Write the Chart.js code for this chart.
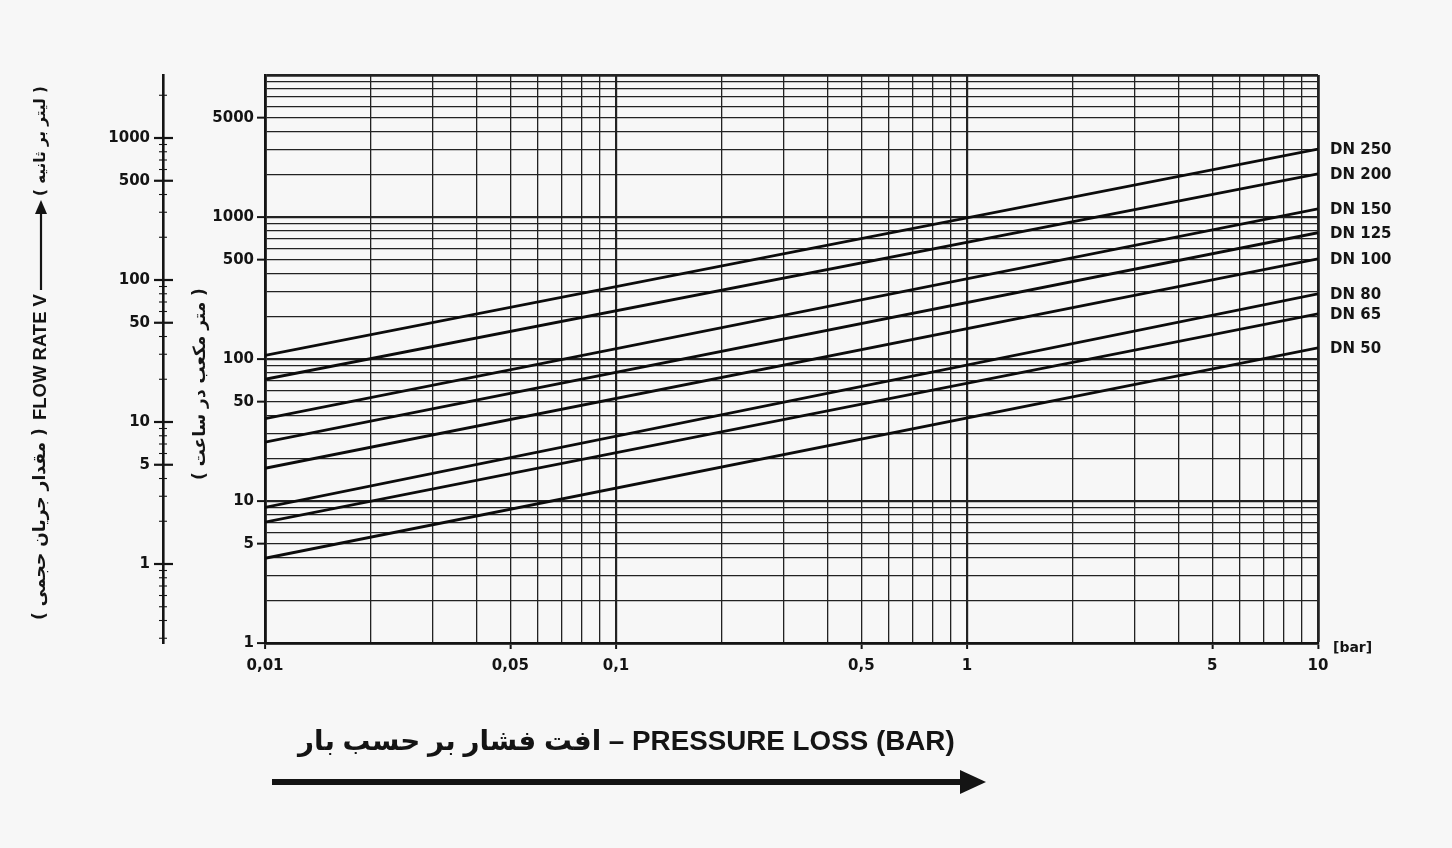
<!DOCTYPE html>
<html>
<head>
<meta charset="utf-8">
<script src="https://cdn.jsdelivr.net/npm/chart.js@4.4.1/dist/chart.umd.min.js"></script>
<style>
  html, body { margin: 0; padding: 0; background: #f7f7f7; }
  #wrap { width: 1452px; height: 848px; position: relative; }
</style>
</head>
<body>
<div id="wrap"><canvas id="c" width="1452" height="848"></canvas></div>
<script>
// ---------- DATA ----------
const pressureBar = [0.01, 10];                 // x values of the two read points (bar)
const seriesNames = ['DN 250', 'DN 200', 'DN 150', 'DN 125', 'DN 100', 'DN 80', 'DN 65', 'DN 50'];
const dn250 = [106, 3010];                       // flow rate m³/h at 0.01 bar and 10 bar
const dn200 = [72, 2010];
const dn150 = [38, 1140];
const dn125 = [26, 775];
const dn100 = [17, 508];
const dn80  = [9.0, 288];
const dn65  = [7.1, 208];
const dn50  = [3.95, 120];
const seriesValues = [dn250, dn200, dn150, dn125, dn100, dn80, dn65, dn50];

const xTickValues = [0.01, 0.05, 0.1, 0.5, 1, 5, 10];
const xTickLabels = ['0,01', '0,05', '0,1', '0,5', '1', '5', '10'];
const yTickValues = [1, 5, 10, 50, 100, 500, 1000, 5000];        // m³/h
const yTickLabels = ['1', '5', '10', '50', '100', '500', '1000', '5000'];
const lsTickValues = [1, 5, 10, 50, 100, 500, 1000];             // l/s
const lsTickLabels = ['1', '5', '10', '50', '100', '500', '1000'];
const M3H_PER_LS = 3.6;

const titleX = 'افت فشار بر حسب بار – PRESSURE LOSS (BAR)';
const titleInner = '( متر مکعب در ساعت )';
const titleOuterA = '( مقدار جریان حجمی )';
const titleOuterB = 'FLOW RATE V';
const titleOuterC = '( لیتر بر ثانیه )';
const unitX = '[bar]';

// ---------- helpers ----------
function logGrid(minExp, maxExp) {
  const out = [];
  for (let e = minExp; e < maxExp; e++) {
    for (let m = 1; m < 10; m++) out.push(Number((m * Math.pow(10, e)).toPrecision(6)));
  }
  out.push(Number(Math.pow(10, maxExp).toPrecision(6)));
  return out;
}
function findIdx(v, arr) {
  for (let i = 0; i < arr.length; i++) if (Math.abs(Math.log10(v) - Math.log10(arr[i])) < 1e-6) return i;
  return -1;
}
function isDecade(v) { return Math.abs(Math.log10(v) - Math.round(Math.log10(v))) < 1e-6; }

const xGrid = logGrid(-2, 1);
const yGrid = logGrid(0, 4);
const lsMin = 1 / M3H_PER_LS, lsMax = 10000 / M3H_PER_LS;
const lsGrid = logGrid(-1, 4).filter(v => v >= lsMin && v <= lsMax);

const TICK_FONT = { family: "'DejaVu Sans', sans-serif", size: 15, weight: 'bold' };
const INK = '#141414';

function gridWidth(v, edge) {
  if (edge) return 2.8;
  return isDecade(v) ? 2.2 : 1.3;
}

// ---------- custom drawing plugin ----------
const decorations = {
  id: 'decorations',
  afterDraw(chart) {
    const ctx = chart.ctx;
    const ca = chart.chartArea;
    ctx.save();
    ctx.fillStyle = INK;
    ctx.strokeStyle = INK;

    // l/s ruler ticks crossing the secondary axis line
    const ls = chart.scales.ls;
    const xl = ls.right;
    lsGrid.forEach(v => {
      const y = ls.getPixelForValue(v);
      const lab = findIdx(v, lsTickValues) >= 0;
      ctx.lineWidth = lab ? 2.2 : 1.1;
      ctx.beginPath();
      ctx.moveTo(xl - (lab ? 9 : 4), y);
      ctx.lineTo(xl + (lab ? 10 : 4), y);
      ctx.stroke();
    });

    // DN labels at the right end of each line
    ctx.font = "bold 15px 'DejaVu Sans', sans-serif";
    ctx.textAlign = 'left';
    ctx.textBaseline = 'middle';
    chart.data.datasets.forEach((ds, i) => {
      const meta = chart.getDatasetMeta(i);
      const pt = meta.data[meta.data.length - 1];
      ctx.fillText(ds.label, pt.x + 12, pt.y + 1);
    });

    // unit [bar]
    ctx.font = "bold 14px 'DejaVu Sans', sans-serif";
    ctx.fillText(unitX, ca.right + 15, ca.bottom + 5);

    // bottom title (fit width)
    const tx0 = 298, tx1 = 955;
    let fs = 28;
    ctx.font = `bold ${fs}px 'Liberation Sans', 'DejaVu Sans', sans-serif`;
    let w = ctx.measureText(titleX).width;
    fs = Math.max(18, Math.min(34, fs * (tx1 - tx0) / w));
    ctx.font = `bold ${fs}px 'Liberation Sans', 'DejaVu Sans', sans-serif`;
    ctx.direction = 'ltr';
    ctx.textAlign = 'left';
    ctx.fillText(titleX, tx0, 742);

    // bottom arrow
    ctx.fillRect(272, 779, 692, 6);
    ctx.beginPath();
    ctx.moveTo(960, 770); ctx.lineTo(986, 782); ctx.lineTo(960, 794); ctx.closePath();
    ctx.fill();

    // helper: rotated text fitted to a length
    function rotText(txt, cx, yBottom, len, family, base) {
      ctx.save();
      ctx.translate(cx, yBottom);
      ctx.rotate(-Math.PI / 2);
      ctx.font = `bold ${base}px ${family}`;
      const mw = ctx.measureText(txt).width;
      const s = Math.max(9, Math.min(20, base * len / mw));
      ctx.font = `bold ${s}px ${family}`;
      ctx.textAlign = 'left';
      ctx.textBaseline = 'middle';
      ctx.direction = 'ltr';
      ctx.fillText(txt, 0, 0);
      ctx.restore();
    }
    const fam = "'DejaVu Sans', sans-serif";
    // inner m³/h title
    rotText(titleInner, 201, 480, 192, fam, 12);
    // outer title pieces
    rotText(titleOuterA, 41, 620, 192, fam, 14);
    rotText(titleOuterB, 41, 420, 126, "'Liberation Sans', sans-serif", 17);
    // arrow pointing up
    ctx.lineWidth = 2.2;
    ctx.beginPath(); ctx.moveTo(41, 290); ctx.lineTo(41, 212); ctx.stroke();
    ctx.beginPath(); ctx.moveTo(41, 200); ctx.lineTo(35, 214); ctx.lineTo(47, 214); ctx.closePath(); ctx.fill();
    rotText(titleOuterC, 41, 196, 110, fam, 14);

    ctx.restore();
  }
};

// ---------- chart ----------
const datasets = seriesNames.map((name, i) => ({
  label: name,
  data: pressureBar.map((x, j) => ({ x: x, y: seriesValues[i][j] })),
  borderColor: '#0c0c0c',
  borderWidth: 2.8,
  pointRadius: 0,
  fill: false,
  tension: 0
}));

new Chart(document.getElementById('c'), {
  type: 'line',
  data: { datasets },
  options: {
    responsive: false,
    animation: false,
    devicePixelRatio: 1,
    layout: { padding: { left: 20, top: 75, right: 134, bottom: 165 } },
    plugins: { legend: { display: false }, tooltip: { enabled: false } },
    scales: {
      x: {
        type: 'logarithmic',
        position: 'bottom',
        min: 0.01, max: 10,
        bounds: 'data',
        afterBuildTicks: s => { s.ticks = xGrid.map(v => ({ value: v })); },
        afterFit: s => { s.height = 40; s.paddingLeft = 0; s.paddingRight = 0; },
        ticks: {
          autoSkip: false, maxRotation: 0, minRotation: 0, padding: 8,
          color: INK, font: TICK_FONT,
          callback: v => { const k = findIdx(v, xTickValues); return k >= 0 ? xTickLabels[k] : ''; }
        },
        grid: {
          color: '#222',
          lineWidth: c => c.tick ? gridWidth(c.tick.value, Math.abs(c.tick.value - 10) < 1e-9) : 1,
          tickLength: 6,
          tickColor: c => (c.tick && findIdx(c.tick.value, xTickValues) >= 0) ? INK : 'rgba(0,0,0,0)',
          tickWidth: 2
        },
        border: { display: true, color: INK, width: 2.8 }
      },
      y: {
        type: 'logarithmic',
        position: 'left',
        weight: 0,
        min: 1, max: 10000,
        bounds: 'data',
        afterBuildTicks: s => { s.ticks = yGrid.map(v => ({ value: v })); },
        afterFit: s => { s.width = 102; s.paddingTop = 0; s.paddingBottom = 0; },
        ticks: {
          autoSkip: false, padding: 3,
          color: INK, font: TICK_FONT,
          callback: v => { const k = findIdx(v, yTickValues); return k >= 0 ? yTickLabels[k] : ''; }
        },
        grid: {
          color: '#222',
          lineWidth: c => c.tick ? gridWidth(c.tick.value, Math.abs(c.tick.value - 10000) < 1e-6) : 1,
          tickLength: 8,
          tickColor: c => (c.tick && findIdx(c.tick.value, yTickValues) >= 0) ? INK : 'rgba(0,0,0,0)',
          tickWidth: 2
        },
        border: { display: true, color: INK, width: 2.8 }
      },
      ls: {
        type: 'logarithmic',
        position: 'left',
        weight: 1,
        min: lsMin, max: lsMax,
        bounds: 'data',
        afterBuildTicks: s => { s.ticks = lsGrid.map(v => ({ value: v })); },
        afterFit: s => { s.width = 143; s.paddingTop = 0; s.paddingBottom = 0; },
        ticks: {
          autoSkip: false, padding: 4,
          color: INK, font: TICK_FONT,
          callback: v => { const k = findIdx(v, lsTickValues); return k >= 0 ? lsTickLabels[k] : ''; }
        },
        grid: {
          drawOnChartArea: false,
          tickLength: 9,
          tickColor: 'rgba(0,0,0,0)'
        },
        border: { display: true, color: INK, width: 2.6 }
      }
    }
  },
  plugins: [decorations]
});
</script>
</body>
</html>
